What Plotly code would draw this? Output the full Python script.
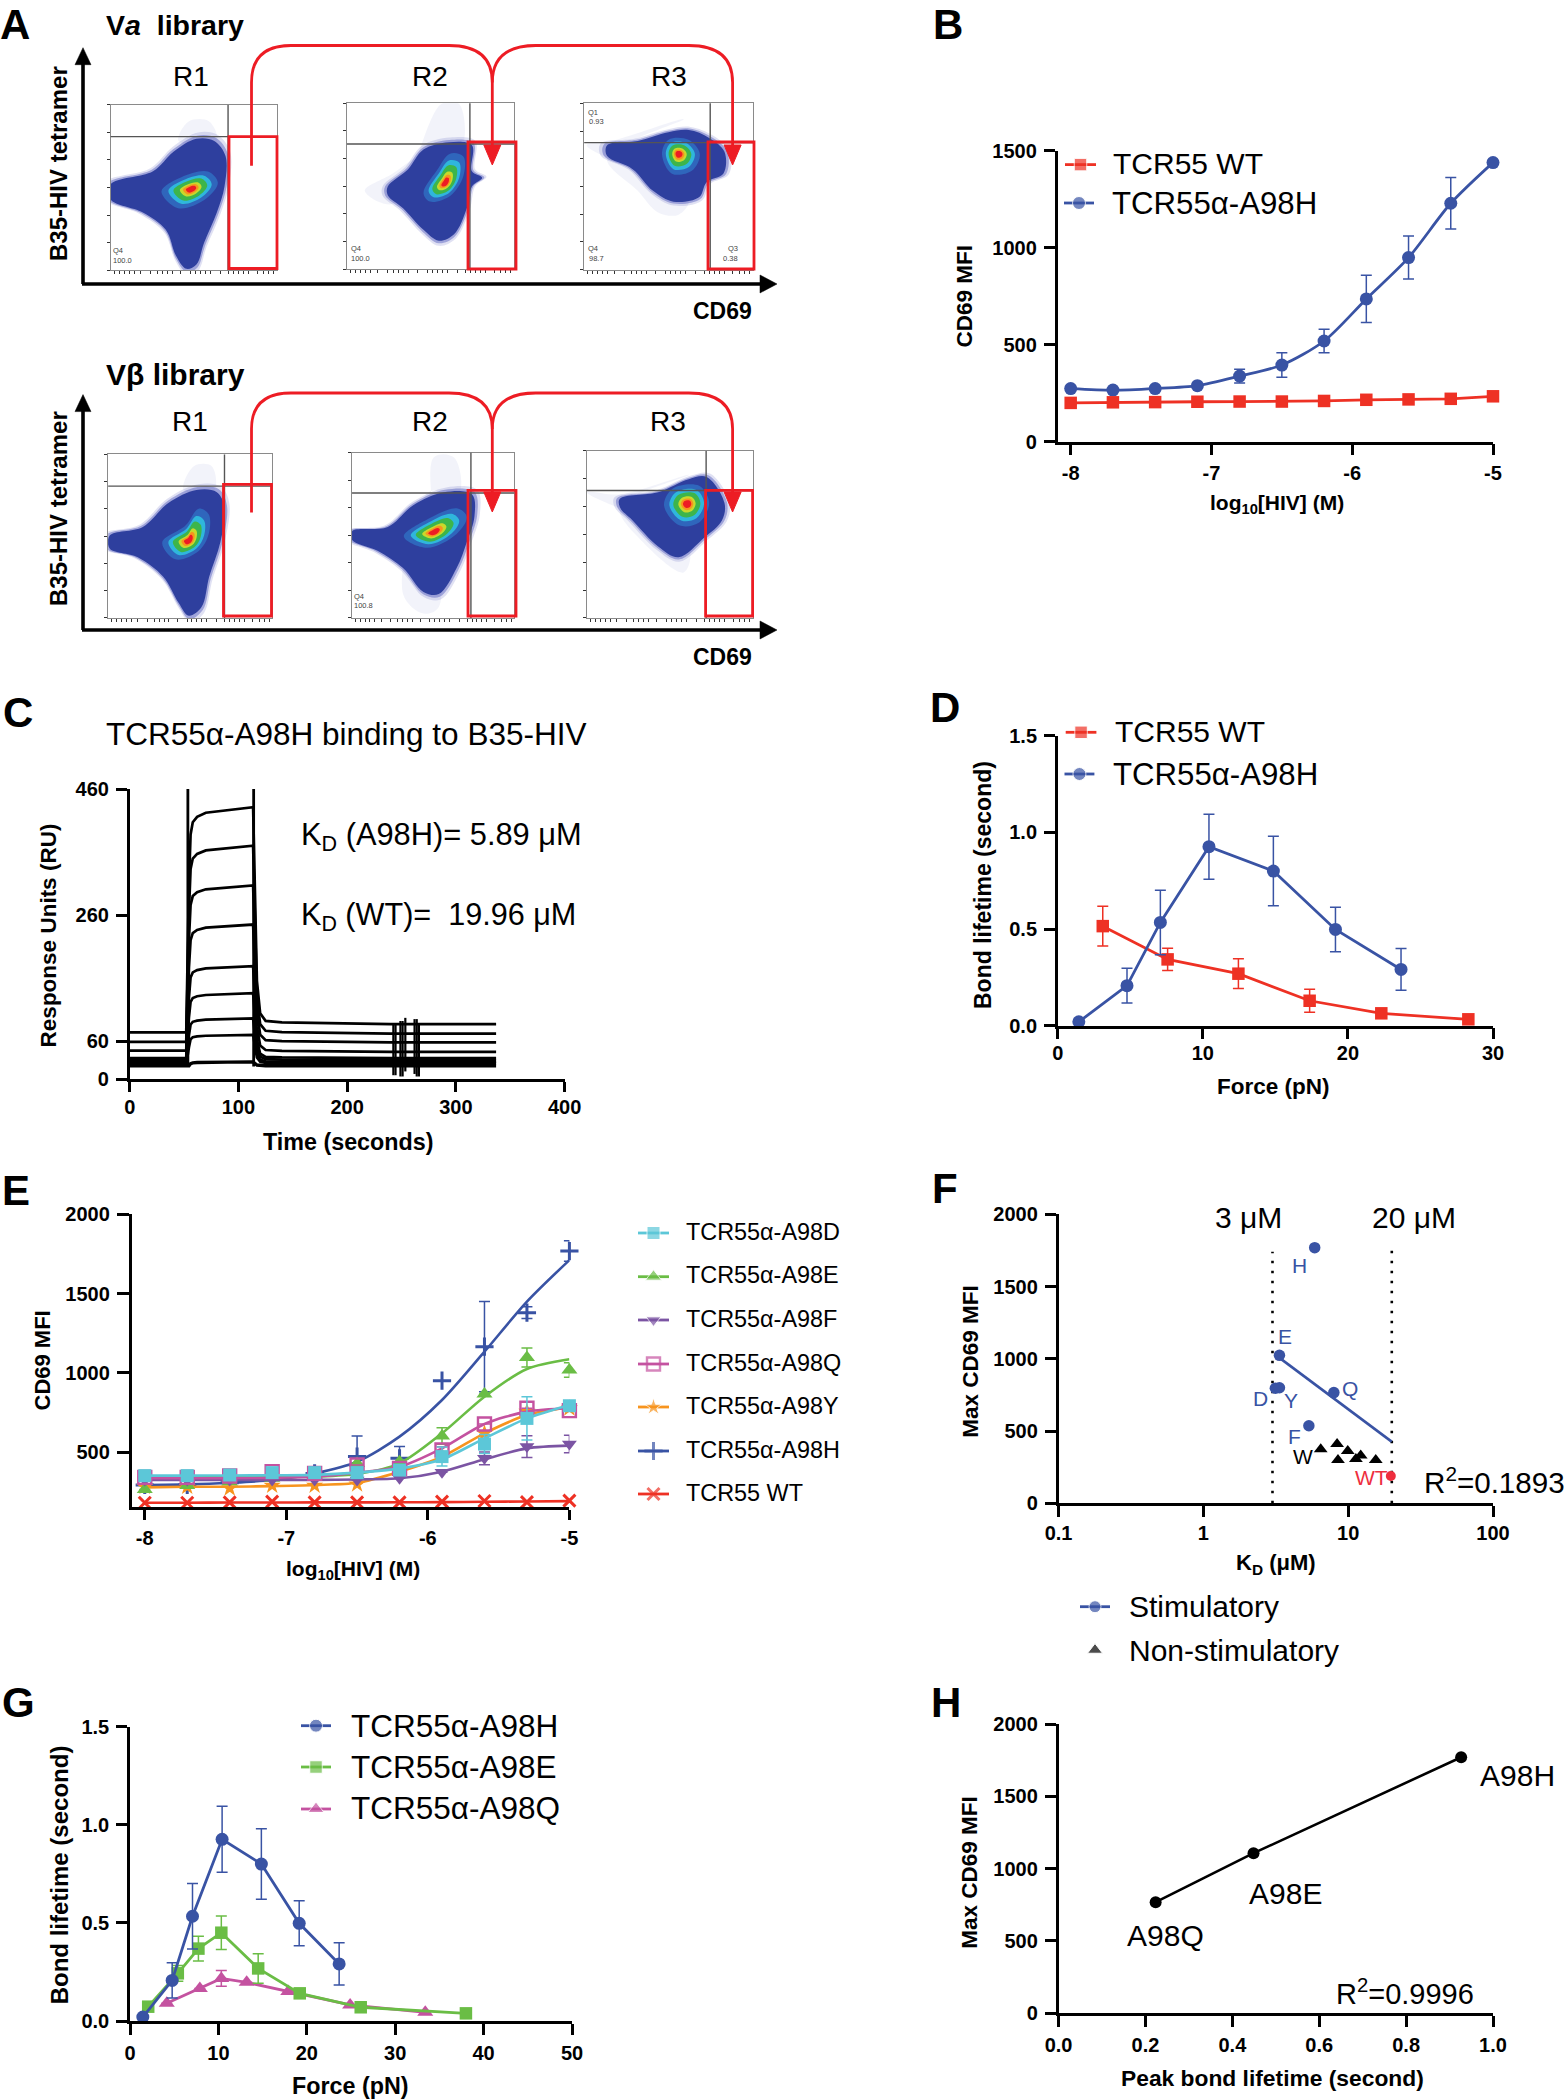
import plotly.graph_objects as go

W, H = 1564, 2100
FONT = "Liberation Sans"
RED = "#EE3124"
BLUE = "#3953A4"
CYAN = "#5CC7D8"
GREEN = "#6ABD45"
PURPLE = "#7B54A3"
MAGENTA = "#C452A0"
ORANGE = "#F7941E"
BOXRED = "#ED1C24"

# ---------- Panel B ----------
conc = [-8, -7.7, -7.4, -7.1, -6.8, -6.5, -6.2, -5.9, -5.6, -5.3, -5]
conc_ticks = [-8, -7, -6, -5]
conc_labels = ["-8", "-7", "-6", "-5"]
b_wt = [199, 202, 203, 205, 206, 206, 209, 215, 217, 220, 233]
b_h = [273, 265, 273, 288, 337, 394, 518, 735, 948, 1228, 1438]
b_h_err = [0, 0, 0, 0, 35, 63, 60, 122, 111, 133, 0]

# ---------- Panel C (sensorgrams) ----------
sg_baseline = [74, 59, 45, 33, 30, 27, 25, 23, 21]
sg_plateau = [431, 370, 307, 245, 179, 136, 96, 70, 27]
sg_post = [87, 72, 58, 43, 33, 30, 27, 25, 21]
sg_rise_t = [54.5, 56, 58, 62, 70, 90, 112]
sg_rise_frac = [0.72, 0.9, 0.945, 0.965, 0.98, 0.99, 1.0]
sg_fall_t = [117, 120, 125, 140, 240, 337]
sg_fall_extra = [0.2, 0.05, 0.015, 0.008, 0.0, 0.0]
sg_spike_t = [53.5, 114]
sg_spike_lo = [20, 20]
sg_spike_hi = [460, 460]
sg_artifact_t = [242.5, 244.5, 249, 251, 253.5, 262, 264, 266]
sg_artifact_hi = [88, 88, 92, 92, 97, 95, 95, 88]
sg_artifact_lo = [6, 6, 4, 4, 12, 8, 4, 4]

# ---------- Panel D ----------
d_wt_f = [3.1, 7.57, 12.45, 17.36, 22.3, 28.3]
d_wt_y = [0.515, 0.343, 0.269, 0.129, 0.064, 0.033]
d_wt_e = [0.103, 0.057, 0.077, 0.06, 0, 0]
h_f = [1.45, 4.77, 7.07, 10.42, 14.86, 19.14, 23.66]
h_y = [0.02, 0.207, 0.534, 0.926, 0.80, 0.498, 0.291]
h_e = [0, 0.09, 0.167, 0.168, 0.18, 0.115, 0.108]

# ---------- Panel E ----------
e_d_pts = [351, 351, 355, 370, 370, 370, 386, 471, 550, 712, 792]
e_d_fit = [351, 351, 352, 353, 356, 370, 395, 454, 586, 712, 797]
e_d_err = [0, 0, 0, 0, 0, 0, 0, 60, 60, 136, 0]
e_e_pts = [264, 288, 313, 334, 355, 428, 439, 601, 866, 1097, 1017]
e_e_fit = [340, 340, 341, 342, 345, 361, 428, 618, 849, 1024, 1085]
e_e_err = [0, 0, 0, 0, 0, 0, 0, 52, 0, 60, 46]
e_f_pts = [323, 323, 323, 323, 323, 323, 334, 372, 460, 534, 550]
e_f_fit = [323, 323, 323, 323, 324, 327, 334, 376, 454, 523, 540]
e_f_err = [0, 0, 0, 0, 0, 0, 0, 0, 40, 68, 55]
e_q_pts = [340, 340, 349, 376, 365, 418, 397, 513, 677, 776, 761]
e_q_fit = [334, 334, 335, 337, 345, 370, 407, 523, 677, 755, 776]
e_q_err = [0, 0, 0, 0, 0, 0, 0, 20, 0, 0, 0]
e_y_pts = [281, 281, 271, 288, 288, 296, 376, 481, 618, 755, 776]
e_y_fit = [277, 281, 281, 285, 292, 306, 376, 470, 618, 733, 782]
e_h_pts = [292, 292, 306, 334, 365, 471, 460, 950, 1165, 1379, 1768]
e_h_fit = [292, 296, 306, 323, 365, 439, 597, 828, 1133, 1449, 1711]
e_h_err = [0, 0, 0, 0, 0, 130, 74, 0, 285, 37, 65]
e_wt_pts = [180, 180, 182, 187, 182, 182, 182, 187, 191, 184, 193]
e_wt_fit = [180, 180, 181, 181, 182, 182, 183, 184, 186, 188, 190]
e_names = ["TCR55α-A98D", "TCR55α-A98E", "TCR55α-A98F", "TCR55α-A98Q",
           "TCR55α-A98Y", "TCR55α-A98H", "TCR55 WT"]

# ---------- Panel F ----------
f_stim_k = [5.87, 3.35, 3.14, 3.35, 7.96, 5.35]
f_stim_v = [1769, 1024, 796, 800, 766, 537]
f_stim_lab = ["H", "E", "D", "Y", "Q", "F"]
f_non_k = [6.46, 8.38, 8.5, 9.93, 11.3, 12.2, 15.5]
f_non_v = [374, 411, 300, 362, 307, 330, 300]
f_wt_k = [19.7]
f_wt_v = [189]
f_fit_k = [3.39, 19.95]
f_fit_v = [1003, 427]

# ---------- Panel G ----------
g_e_f = [2.06, 5.41, 7.74, 10.33, 14.5, 19.2, 26.1, 38]
g_e_y = [0.073, 0.243, 0.369, 0.45, 0.268, 0.141, 0.07, 0.039]
g_e_e = [0, 0.04, 0.063, 0.085, 0.075, 0, 0, 0]
g_q_f = [4.16, 7.9, 10.33, 13.2, 17.9, 24.9, 33.4]
g_q_y = [0.09, 0.166, 0.217, 0.197, 0.15, 0.082, 0.044]
g_q_e = [0, 0, 0.04, 0, 0, 0, 0]

# ---------- Panel H ----------
h_peak = [0.2234, 0.4487, 0.9267]
h_max = [767, 1106, 1770]
h_lab = ["A98Q", "A98E", "A98H"]

# ---------- Panel A: density outlines ----------
flow_outer = {
    "a1": ([217, 300, 340, 385, 420, 442, 440, 425, 400, 385, 365, 345, 325, 280, 217],
           [425, 395, 350, 320, 325, 360, 430, 490, 560, 610, 620, 590, 530, 490, 460]),
    "a2": ([760, 800, 830, 880, 925, 925, 945, 925, 915, 890, 860, 830, 790, 760],
           [430, 390, 345, 328, 335, 395, 410, 430, 480, 540, 555, 530, 480, 450]),
    "a3": ([1190, 1250, 1310, 1350, 1390, 1420, 1418, 1385, 1370, 1320, 1280, 1240, 1190],
           [335, 325, 305, 300, 318, 350, 400, 420, 455, 465, 440, 390, 360]),
    "b1": ([215, 280, 330, 385, 425, 440, 432, 410, 395, 370, 350, 320, 270, 215],
           [1235, 1215, 1160, 1130, 1135, 1170, 1250, 1330, 1400, 1420, 1390, 1330, 1285, 1265]),
    "b2": ([690, 760, 810, 870, 925, 930, 915, 895, 860, 830, 790, 740, 690],
           [1225, 1215, 1165, 1135, 1140, 1190, 1250, 1310, 1370, 1365, 1310, 1270, 1245]),
    "b3": ([1215, 1290, 1350, 1385, 1420, 1415, 1380, 1330, 1290, 1240, 1215],
           [1150, 1135, 1105, 1100, 1160, 1200, 1240, 1285, 1260, 1200, 1170]),
}
flow_core = {
    "a1": ([330, 360, 400, 415, 395, 355], [440, 415, 405, 425, 455, 470], 375, 436),
    "a2": ([840, 860, 880, 900, 900, 880, 850], [440, 400, 370, 375, 410, 445, 455], 873, 422),
    "a3": ([1305, 1315, 1345, 1362, 1350, 1320], [355, 330, 330, 355, 385, 390], 1330, 355),
    "b1": ([330, 365, 385, 400, 400, 385, 350], [1250, 1220, 1190, 1200, 1235, 1265, 1280], 370, 1247),
    "b2": ([805, 840, 885, 900, 885, 840], [1235, 1205, 1185, 1200, 1230, 1255], 850, 1228),
    "b3": ([1312, 1325, 1365, 1380, 1365, 1335], [1165, 1135, 1130, 1160, 1195, 1200], 1347, 1162),
}
flow_spray = {
    "a1": ([370, 410, 425, 350], [280, 280, 325, 325]),
    "a2": ([865, 900, 905, 855, 770, 715, 770], [240, 240, 335, 335, 400, 440, 470]),
    "a3": ([1150, 1200, 1340, 1190, 1250, 1290, 1330, 1350], [335, 325, 275, 365, 440, 490, 495, 460]),
    "b1": ([380, 415, 420, 360], [1075, 1075, 1130, 1130]),
    "b2": ([850, 890, 900, 840, 790, 830, 860], [1055, 1055, 1135, 1135, 1370, 1415, 1400]),
    "b3": ([1150, 1215, 1350, 1215, 1260, 1340, 1350], [1135, 1140, 1095, 1170, 1250, 1320, 1260]),
}
flow_levels = [(1.3, "#2F66BC"), (1.0, "#2FB6DC"), (0.78, "#3DB54A"),
               (0.5, "#C9D82B"), (0.36, "#F7941E"), (0.24, "#ED1C24")]
flow_box_z = {  # x0, x1, y0, y1, hline, vline
    "a1": (217, 543, 242, 623, 315, 447),
    "a2": (680, 1008, 238, 621, 332, 921),
    "a3": (1145, 1476, 238, 622, 329, 1392),
    "b1": (212, 534, 1048, 1425, 1121, 440),
    "b2": (690, 1008, 1044, 1425, 1137, 923),
    "b3": (1150, 1476, 1040, 1425, 1131, 1384),
}
red_boxes = {
    "a1": (229, 277, 136.6, 268.5), "a2": (468, 516, 142, 269), "a3": (708, 754, 142, 269),
    "b1": (223.5, 271.5, 484.4, 616), "b2": (468, 516, 490.4, 616), "b3": (705.6, 752.6, 490.4, 616),
}
ZX, ZY = 1.96, 2.306

fig = go.Figure()
layout = {}
shapes = []
annots = []
axis_n = [0]


def px(x):
    return x / W


def py(y):
    return 1 - y / H


def txt(x, y, text, size=20, bold=False, color="black", anchor="left", angle=0, family=FONT):
    annots.append(dict(x=px(x), y=py(y), xref="paper", yref="paper", text=text, showarrow=False,
                       xanchor=anchor, yanchor="middle", textangle=angle, borderpad=0, borderwidth=0,
                       font=dict(family=family, size=size, color=color, weight=700 if bold else 400)))


def new_axes(x0, x1, y0, y1, xr, yr, xopts=None, yopts=None):
    axis_n[0] += 1
    n = axis_n[0]
    sx, sy = ("", "") if n == 1 else (str(n), str(n))
    xa = dict(domain=[px(x0), px(x1)], range=xr, anchor="y" + sy, showgrid=False, zeroline=False, automargin=False)
    ya = dict(domain=[py(y1), py(y0)], range=yr, anchor="x" + sx, showgrid=False, zeroline=False, automargin=False)
    xa.update(xopts or {})
    ya.update(yopts or {})
    layout["xaxis" + sx] = xa
    layout["yaxis" + sy] = ya
    return "x" + sx, "y" + sy


def chart_axes(x0, x1, y0, y1, xr, yr, xt, yt, xfmt=None, yfmt=None, xstand=1, ystand=3, xtype=None, xtext=None,
               xlen=11, ylen=11):
    base = dict(showline=True, linewidth=2.5, linecolor="black", ticks="outside", tickwidth=2.5,
                tickcolor="black", tickfont=dict(family=FONT, size=20, color="black", weight=700))
    xo = dict(base, tickmode="array", tickvals=xt, ticklen=xlen, ticklabelstandoff=xstand)
    yo = dict(base, tickmode="array", tickvals=yt, ticklen=ylen, ticklabelstandoff=ystand)
    if xfmt:
        xo["tickformat"] = xfmt
    if yfmt:
        yo["tickformat"] = yfmt
    if xtype:
        xo["type"] = xtype
    if xtext:
        xo["ticktext"] = xtext
    return new_axes(x0, x1, y0, y1, xr, yr, xo, yo)


def series(ax, x, y, color, symbol="circle", size=13, err=None, name=None, shape="linear", lw=2.8,
           mode="lines+markers", mline=None):
    marker = dict(symbol=symbol, size=size, color=color)
    if mline:
        marker["line"] = dict(color=color, width=mline)
    tr = dict(x=x, y=y, xaxis=ax[0], yaxis=ax[1], mode=mode, name=name, showlegend=False,
              line=dict(color=color, width=lw, shape=shape, smoothing=0.8), marker=marker, cliponaxis=False)
    if err is not None:
        tr["error_y"] = dict(type="data", array=err, visible=True, color=color, thickness=1.5, width=5.5)
    fig.add_trace(go.Scatter(**tr))


# ================= Panel A ====================
xminor = [0.02, 0.05, 0.08, 0.11, 0.14, 0.18, 0.24, 0.28, 0.31, 0.34, 0.37, 0.42, 0.48, 0.51, 0.54, 0.57, 0.6,
          0.66, 0.71, 0.74, 0.77, 0.8, 0.83, 0.88, 0.92, 0.95, 0.98]
yminor = [0.0, 0.167, 0.333, 0.5, 0.667, 0.833, 1.0]


def scaled(xs, ys, cx, cy, k):
    return [cx + (v - cx) * k for v in xs], [cy + (v - cy) * k for v in ys]


for key, (zx0, zx1, zy0, zy1, zh, zv) in flow_box_z.items():
    span_x = zx1 - zx0
    span_y = zy1 - zy0
    frame = dict(showline=True, mirror=True, linewidth=1.2, linecolor="#8a8a8a", ticks="outside", ticklen=3,
                 tickwidth=1, tickcolor="#333333", showticklabels=False, tickmode="array")
    ax = new_axes(zx0 / ZX, zx1 / ZX, zy0 / ZY, zy1 / ZY, [zx0, zx1], [zy1, zy0],
                  dict(frame, tickvals=[zx0 + f * span_x for f in xminor]),
                  dict(frame, tickvals=[zy0 + f * span_y for f in yminor]))
    sx, sy = flow_spray[key]
    fig.add_trace(go.Scatter(x=sx + sx[:1], y=sy + sy[:1], xaxis=ax[0], yaxis=ax[1], mode="lines", fill="toself",
                             fillcolor="rgba(70,80,190,0.07)", line=dict(width=0, shape="spline"),
                             showlegend=False, name="sparse events " + key))
    ox, oy = flow_outer[key]
    ccx = sum(ox) / len(ox)
    ccy = sum(oy) / len(oy)
    for kk, alpha in ((1.1, 0.16), (1.05, 0.4)):
        hx, hy = scaled(ox, oy, ccx, ccy, kk)
        fig.add_trace(go.Scatter(x=hx + hx[:1], y=hy + hy[:1], xaxis=ax[0], yaxis=ax[1], mode="lines", fill="toself",
                                 fillcolor=f"rgba(60,70,180,{alpha})", line=dict(width=0, shape="spline"),
                                 showlegend=False, name="fringe " + key))
    fig.add_trace(go.Scatter(x=ox + ox[:1], y=oy + oy[:1], xaxis=ax[0], yaxis=ax[1], mode="lines", fill="toself",
                             fillcolor="#2E3F9E", line=dict(width=0, shape="spline"),
                             showlegend=False, name="density " + key))
    cxs, cys, cx, cy = flow_core[key]
    for k, col in flow_levels:
        lx, ly = scaled(cxs, cys, cx, cy, k)
        fig.add_trace(go.Scatter(x=lx + lx[:1], y=ly + ly[:1], xaxis=ax[0], yaxis=ax[1], mode="lines",
                                 fill="toself", fillcolor=col, line=dict(width=0, shape="spline"),
                                 showlegend=False, name="density level " + key))
    # quadrant gates
    shapes.append(dict(type="line", xref="paper", yref="paper", x0=px(zx0 / ZX), x1=px(zx1 / ZX),
                       y0=py(zh / ZY), y1=py(zh / ZY), line=dict(color="#555555", width=1.4)))
    shapes.append(dict(type="line", xref="paper", yref="paper", x0=px(zv / ZX), x1=px(zv / ZX),
                       y0=py(zy0 / ZY), y1=py(zy1 / ZY), line=dict(color="#555555", width=1.4)))
    rx0, rx1, ry0, ry1 = red_boxes[key]
    shapes.append(dict(type="rect", xref="paper", yref="paper", x0=px(rx0), x1=px(rx1), y0=py(ry0), y1=py(ry1),
                       line=dict(color=BOXRED, width=2.8)))

for (xx, yy, s) in [(118.4, 250.6, "Q4"), (122.4, 260, "100.0"), (356, 248.5, "Q4"), (360.7, 258, "100.0"),
                    (593, 112, "Q1"), (596, 121.4, "0.93"), (593.4, 248.5, "Q4"), (596, 258.5, "98.7"),
                    (732.7, 248.5, "Q3"), (730, 258.5, "0.38"), (358.7, 597, "Q4"), (363, 605, "100.8")]:
    txt(xx, yy, s, size=7.5, color="#444444", anchor="center")


def pth(points):
    return " ".join(f"{px(p[0]):.5f},{py(p[1]):.5f}" for p in points)


def arrow_row(top, curve, stem, tip, head):
    xa0, xa, xb, xc, xd, xe, xf = 251.5, 291, 449, 492.3, 535.7, 688.8, 732.6
    p1 = "M " + pth([(xa0, stem)]) + " L " + pth([(xa0, curve)]) + " Q " + pth([(xa0, top), (xa, top)]) + " L " + \
         pth([(xb, top)]) + " Q " + pth([(xc, top), (xc, curve)]) + " L " + pth([(xc, head)])
    p2 = "M " + pth([(xc, curve)]) + " Q " + pth([(xc, top), (xd, top)]) + " L " + pth([(xe, top)]) + " Q " + \
         pth([(xf, top), (xf, curve)]) + " L " + pth([(xf, head)])
    for p in (p1, p2):
        shapes.append(dict(type="path", xref="paper", yref="paper", path=p, line=dict(color=BOXRED, width=2.8)))
    for xv in (xc, xf):
        tri = "M " + pth([(xv - 8.5, head)]) + " L " + pth([(xv + 8.5, head)]) + " L " + pth([(xv, tip)]) + " Z"
        shapes.append(dict(type="path", xref="paper", yref="paper", path=tri, fillcolor=BOXRED,
                           line=dict(color=BOXRED, width=1)))


arrow_row(45.5, 82.4, 165.7, 165, 145)
arrow_row(393, 429, 512.6, 512, 492)


def big_axes(ybot, ytop):
    black = dict(color="black", width=3.6)
    shapes.append(dict(type="line", xref="paper", yref="paper", x0=px(83), x1=px(83), y0=py(ybot), y1=py(ytop + 15),
                       line=black))
    shapes.append(dict(type="line", xref="paper", yref="paper", x0=px(82), x1=px(762), y0=py(ybot), y1=py(ybot),
                       line=black))
    t1 = "M " + pth([(75, ytop + 17)]) + " L " + pth([(91, ytop + 17)]) + " L " + pth([(83, ytop)]) + " Z"
    t2 = "M " + pth([(760, ybot - 9)]) + " L " + pth([(760, ybot + 9)]) + " L " + pth([(777, ybot)]) + " Z"
    for t in (t1, t2):
        shapes.append(dict(type="path", xref="paper", yref="paper", path=t, fillcolor="black",
                           line=dict(color="black", width=0.5)))


big_axes(284, 47.7)
big_axes(630, 394.6)

txt(105.6, 25, "V<i>a</i>  library", size=28.5, bold=True)
txt(105.6, 374, "Vβ library", size=30, bold=True)
for (xx, yy, s) in [(191, 76, "R1"), (430, 76, "R2"), (669, 76, "R3"), (190, 421.5, "R1"), (430, 421.5, "R2"),
                    (668, 421.5, "R3")]:
    txt(xx, yy, s, size=28, anchor="center")
txt(722, 311, "CD69", size=23, bold=True, anchor="center")
txt(722, 657, "CD69", size=23, bold=True, anchor="center")
txt(59, 163, "B35-HIV tetramer", size=24, bold=True, anchor="center", angle=-90)
txt(59, 508, "B35-HIV tetramer", size=24, bold=True, anchor="center", angle=-90)

# ================= Panel B ====================
ax = chart_axes(1057.6, 1493, 150.5, 441.5, [-8.093, -5], [0, 1500], conc_ticks, [0, 500, 1000, 1500],
                xtext=conc_labels)
series(ax, conc, b_h, BLUE, "circle", 13, b_h_err, "TCR55α-A98H", shape="spline")
series(ax, conc, b_wt, RED, "square", 12.5, None, "TCR55 WT")
txt(1277, 504, "log<sub>10</sub>[HIV] (M)", size=21, bold=True, anchor="center")
txt(963.5, 296, "CD69 MFI", size=22.5, bold=True, anchor="center", angle=-90)
txt(1113, 163.5, "TCR55 WT", size=30)
txt(1111.8, 203, "TCR55α-A98H", size=31.2)

# ================= Panel C ====================
ax = chart_axes(129.7, 564.6, 789, 1079, [0, 400], [0, 460], [0, 100, 200, 300, 400], [0, 60, 260, 460],
                xlen=10, xstand=-2)
for b, p, d in zip(sg_baseline, sg_plateau, sg_post):
    ts = [0, 52] + sg_rise_t + [113.5] + sg_fall_t
    ys = [b, b] + [max(p * f, min(b, p)) for f in sg_rise_frac] + [p] + [d + (p - d) * e for e in sg_fall_extra]
    fig.add_trace(go.Scatter(x=ts, y=ys, xaxis=ax[0], yaxis=ax[1], mode="lines", showlegend=False,
                             name="sensorgram", line=dict(color="black", width=2.7 if p > 60 else 3.4)))
spk_x, spk_y = [], []
for t, lo, hi in zip(sg_spike_t, sg_spike_lo, sg_spike_hi):
    spk_x += [t, t, None]
    spk_y += [lo, hi, None]
fig.add_trace(go.Scatter(x=spk_x, y=spk_y, xaxis=ax[0], yaxis=ax[1], mode="lines", showlegend=False,
                         name="injection spikes", line=dict(color="black", width=2.8)))
art_x, art_y = [], []
for t, hi, lo in zip(sg_artifact_t, sg_artifact_hi, sg_artifact_lo):
    art_x += [t, t, None]
    art_y += [lo, hi, None]
fig.add_trace(go.Scatter(x=art_x, y=art_y, xaxis=ax[0], yaxis=ax[1], mode="lines", showlegend=False,
                         name="injection artifacts", line=dict(color="black", width=2.2)))
txt(346, 734, "TCR55α-A98H binding to B35-HIV", size=31.5, anchor="center")
txt(301, 836.7, "K<sub>D</sub> (A98H)= 5.89 μM", size=30.8)
txt(301, 916, "K<sub>D</sub> (WT)=  19.96 μM", size=30.6)
txt(348, 1141.7, "Time (seconds)", size=23.3, bold=True, anchor="center")
txt(49.4, 935, "Response Units (RU)", size=22.5, bold=True, anchor="center", angle=-90)

# ================= Panel D ====================
ax = chart_axes(1057.8, 1493, 735.7, 1025.7, [0, 30], [0, 1.5], [0, 10, 20, 30], [0, 0.5, 1.0, 1.5], yfmt=".1f",
                xstand=-3)
series(ax, d_wt_f, d_wt_y, RED, "square", 12.5, d_wt_e, "TCR55 WT")
series(ax, h_f, h_y, BLUE, "circle", 13, h_e, "TCR55α-A98H")
txt(1115, 732, "TCR55 WT", size=30)
txt(1113, 774, "TCR55α-A98H", size=31.2)
txt(1273.5, 1086, "Force (pN)", size=22.5, bold=True, anchor="center")
txt(983, 885, "Bond lifetime (second)", size=23, bold=True, anchor="center", angle=-90)

# ================= Panel E ====================
ax = chart_axes(131.6, 569.4, 1214.3, 1507, [-8.093, -5], [153, 2000], conc_ticks, [500, 1000, 1500, 2000],
                xstand=1, xlen=10, ylen=12, xtext=conc_labels)
e_style = [
    (e_h_pts, e_h_fit, e_h_err, BLUE, "cross-thin", 13, 3, e_names[5]),
    (e_y_pts, e_y_fit, None, ORANGE, "star", 13, None, e_names[4]),
    (e_e_pts, e_e_fit, e_e_err, GREEN, "triangle-up", 14, None, e_names[1]),
    (e_f_pts, e_f_fit, e_f_err, PURPLE, "triangle-down", 13, None, e_names[2]),
    (e_q_pts, e_q_fit, e_q_err, MAGENTA, "square-open", 13, 2.4, e_names[3]),
    (e_d_pts, e_d_fit, e_d_err, CYAN, "square", 13, None, e_names[0]),
    (e_wt_pts, e_wt_fit, None, RED, "x-thin", 12, 3, e_names[6]),
]
for pts, fit, err, col, sym, sz, ml, nm in e_style:
    fig.add_trace(go.Scatter(x=conc, y=fit, xaxis=ax[0], yaxis=ax[1], mode="lines", showlegend=False, name=nm + " fit",
                             line=dict(color=col, width=2.6, shape="spline", smoothing=0.8), cliponaxis=False))
    series(ax, conc, pts, col, sym, sz, err, nm, mode="markers", mline=ml)
txt(352.7, 1570, "log<sub>10</sub>[HIV] (M)", size=21, bold=True, anchor="center")
txt(42.8, 1360.7, "CD69 MFI", size=22, bold=True, anchor="center", angle=-90)
e_key_y = [1233, 1276.7, 1320, 1364, 1407, 1451, 1494]
e_key_style = [(CYAN, "square", 13, None), (GREEN, "triangle-up", 14, None), (PURPLE, "triangle-down", 13, None),
               (MAGENTA, "square-open", 13, 2.4), (ORANGE, "star", 13, None), (BLUE, "cross-thin", 13, 3),
               (RED, "x-thin", 12, 3)]
for nm, yy in zip(e_names, e_key_y):
    txt(685.7, yy - 1.3, nm, size=23.4)

# ================= Panel F ====================
ax = chart_axes(1058.6, 1493, 1214.3, 1503.3, [-1, 2], [0, 2000], [0.1, 1, 10, 100], [0, 500, 1000, 1500, 2000],
                xtype="log", xtext=["0.1", "1", "10", "100"], xstand=-1)
dot = dict(color="black", width=2.6, dash="2.6px,7.4px")
fig.add_trace(go.Scatter(x=[3, 3], y=[0, 1741], xaxis=ax[0], yaxis=ax[1], mode="lines", line=dot, showlegend=False,
                         name="3 µM"))
fig.add_trace(go.Scatter(x=[20, 20], y=[0, 1795], xaxis=ax[0], yaxis=ax[1], mode="lines", line=dot, showlegend=False,
                         name="20 µM"))
fig.add_trace(go.Scatter(x=f_fit_k, y=f_fit_v, xaxis=ax[0], yaxis=ax[1], mode="lines", showlegend=False, name="fit",
                         line=dict(color=BLUE, width=2.6)))
series(ax, f_stim_k, f_stim_v, BLUE, "circle", 11.5, None, "Stimulatory", mode="markers")
series(ax, f_non_k, f_non_v, "black", "triangle-up", 12, None, "Non-stimulatory", mode="markers")
series(ax, f_wt_k, f_wt_v, "#EE2E3E", "circle", 10, None, "WT", mode="markers")
for s, (xx, yy) in zip(f_stim_lab, [(1299.7, 1265), (1285.4, 1336.7), (1260.7, 1398.3), (1291, 1400), (1350, 1388),
                                    (1294, 1436.7)]):
    txt(xx, yy, s, size=21, color=BLUE, anchor="center")
txt(1303, 1456, "W", size=21, anchor="center")
txt(1371.7, 1477, "WT", size=21, color="#EE2E3E", anchor="center")
txt(1248.4, 1217, "3 μM", size=30, anchor="center")
txt(1413.5, 1217, "20 μM", size=30, anchor="center")
txt(1423.5, 1480.7, "R<sup>2</sup>=0.1893", size=29.6)
txt(1275.5, 1564, "K<sub>D</sub> (μM)", size=22, bold=True, anchor="center")
txt(971, 1361.7, "Max CD69 MFI", size=22.5, bold=True, anchor="center", angle=-90)
txt(1129, 1606, "Stimulatory", size=30)
txt(1129, 1650, "Non-stimulatory", size=30)

# ================= Panel G ====================
ax = chart_axes(130, 572, 1726.7, 2021, [0, 50], [0, 1.5], [0, 10, 20, 30, 40, 50], [0, 0.5, 1.0, 1.5], yfmt=".1f")
series(ax, g_q_f, g_q_y, MAGENTA, "triangle-up", 14, g_q_e, "TCR55α-A98Q")
series(ax, g_e_f, g_e_y, GREEN, "square", 12.5, g_e_e, "TCR55α-A98E")
series(ax, h_f, h_y, BLUE, "circle", 13, h_e, "TCR55α-A98H")
txt(351, 1726, "TCR55α-A98H", size=31.5)
txt(351, 1766.7, "TCR55α-A98E", size=31.5)
txt(351, 1808, "TCR55α-A98Q", size=31.5)
txt(350.7, 2086, "Force (pN)", size=23.3, bold=True, anchor="center")
txt(59.3, 1875, "Bond lifetime (second)", size=24, bold=True, anchor="center", angle=-90)

# ================= Panel H ====================
ax = chart_axes(1058.6, 1493, 1724, 2013, [0, 1], [0, 2000], [0, 0.2, 0.4, 0.6, 0.8, 1.0], [0, 500, 1000, 1500, 2000],
                xfmt=".1f")
series(ax, h_peak, h_max, "black", "circle", 12, None, "Peak vs max", lw=2.6)
for s, (xx, yy) in zip(h_lab, [(1165, 1935), (1285.4, 1893), (1517, 1775)]):
    txt(xx, yy, s, size=30, anchor="center")
txt(1336.3, 1991.7, "R<sup>2</sup>=0.9996", size=29)
txt(1272, 2078, "Peak bond lifetime (second)", size=22.8, bold=True, anchor="center")
txt(970, 1871.7, "Max CD69 MFI", size=22.5, bold=True, anchor="center", angle=-90)

# Panel letters
for s, xx, yy in [("A", 0, 24.5), ("B", 933, 24.5), ("C", 3, 712), ("D", 930, 707), ("E", 2, 1190), ("F", 932, 1188),
                  ("G", 2, 1702), ("H", 931, 1702)]:
    txt(xx, yy, s, size=42, bold=True)

# ---------- legend keys on a page-sized overlay ----------
page = new_axes(0, W, 0, H, [0, W], [H, 0], dict(visible=False), dict(visible=False))


def key(x0, x1, y, color, symbol, size, mline=None, line=True):
    m = dict(symbol=symbol, size=[0, size, 0], color=color)
    if mline:
        m["line"] = dict(color=color, width=mline)
    fig.add_trace(go.Scatter(x=[x0, (x0 + x1) / 2, x1], y=[y, y, y], xaxis=page[0], yaxis=page[1],
                             mode="lines+markers" if line else "markers", showlegend=False, hoverinfo="skip",
                             line=dict(color=color, width=2.8), marker=m))


key(1065, 1096, 164.6, RED, "square", 12.5)
key(1064, 1094, 203, BLUE, "circle", 13)
key(1065.7, 1096.4, 732.3, RED, "square", 12.5)
key(1064.5, 1094.4, 774, BLUE, "circle", 13)
for (col, sym, sz, ml), yy in zip(e_key_style, e_key_y):
    key(638, 669, yy, col, sym, sz, ml)
key(1080, 1110, 1606.7, BLUE, "circle", 12)
key(1080, 1110, 1650, "black", "triangle-up", 13, line=False)
key(301, 331, 1725.7, BLUE, "circle", 13)
key(301, 331, 1767, GREEN, "square", 12.5)
key(301, 331, 1809, MAGENTA, "triangle-up", 14)

fig.update_layout(template="none", width=W, height=H, margin=dict(l=0, r=0, t=0, b=0, autoexpand=False), autosize=False,
                  paper_bgcolor="white", plot_bgcolor="rgba(0,0,0,0)", showlegend=False, hovermode=False,
                  font=dict(family=FONT, color="black"), shapes=shapes, annotations=annots, **layout)
fig.write_html("out.html", config=dict(displayModeBar=False),
               post_script="document.body.style.margin='0';document.documentElement.style.overflow='hidden';")
